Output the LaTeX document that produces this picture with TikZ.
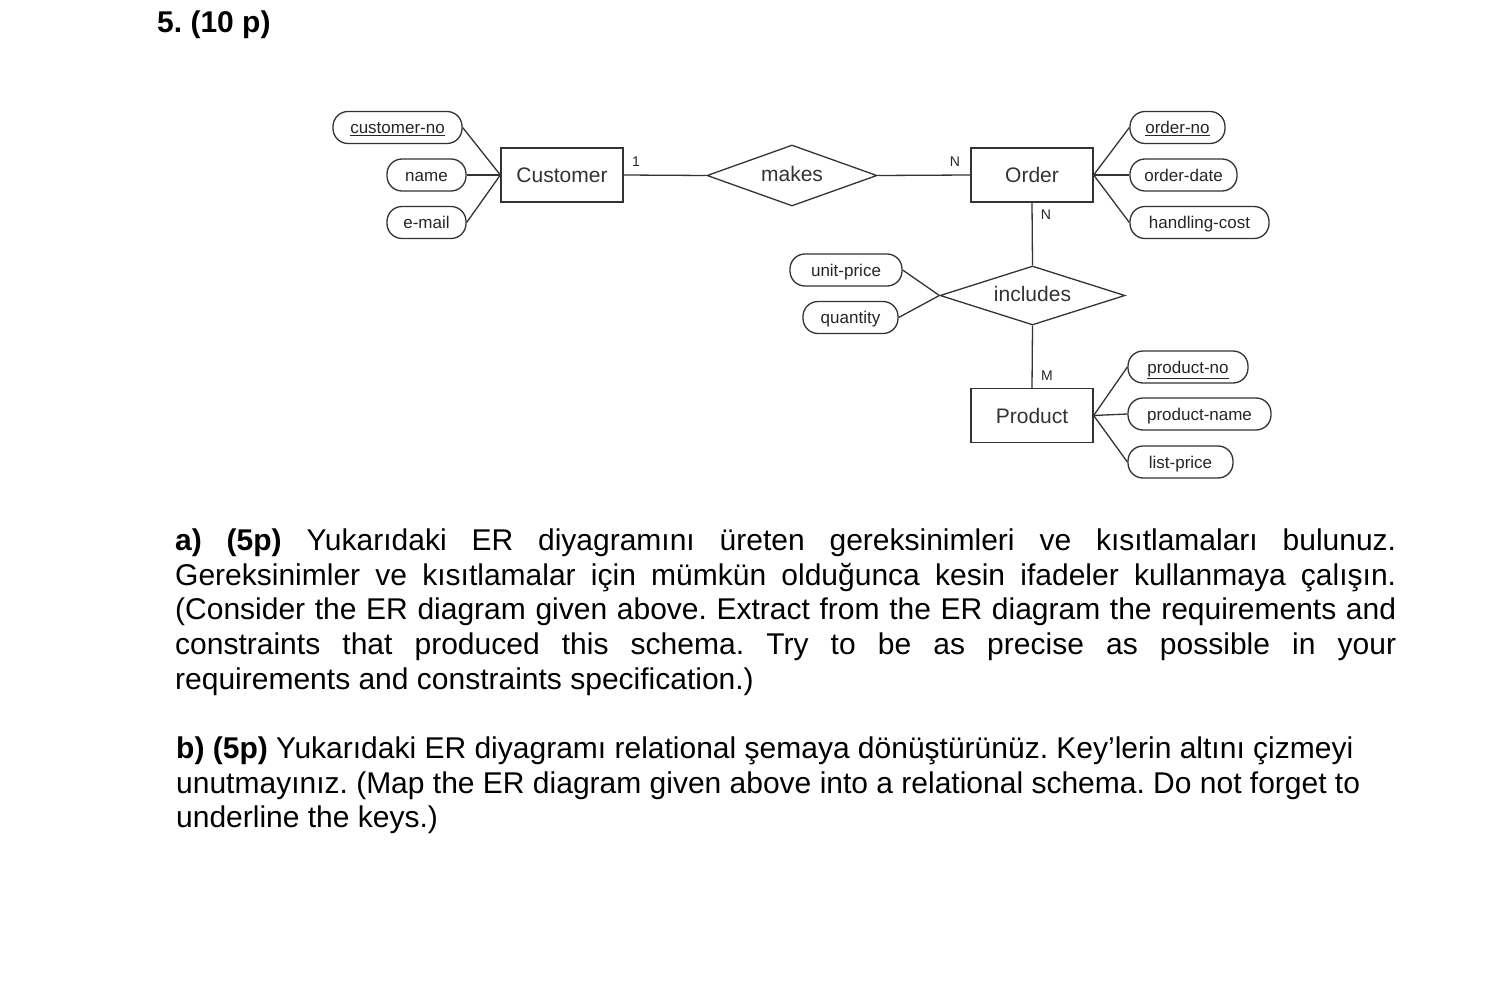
\documentclass[tikz,border=0pt]{standalone}
\usepackage{fontspec}
\setmainfont{Liberation Sans}
\frenchspacing
\usetikzlibrary{shapes.geometric}
\tikzset{
  ln/.style={draw=black!80, line width=1.3pt},
  entity/.style={ln, rectangle, inner sep=0pt, minimum width=122pt, minimum height=54pt,
    font=\fontsize{21}{24}\selectfont, text=black!80},
  rel/.style={ln, diamond, inner sep=0pt, font=\fontsize{21}{24}\selectfont, text=black!80},
  attr/.style={ln, rectangle, rounded corners=15pt, inner sep=0pt, minimum height=32pt,
    text height=14pt, text depth=1.5pt, font=\fontsize{17}{20}\selectfont, text=black!85},
  card/.style={inner sep=0pt, font=\fontsize{14}{16}\selectfont, text=black!85},
  para/.style={inner sep=0pt, anchor=base west, font=\fontsize{30}{34}\selectfont},
  conn/.style={draw=black!80, line width=1.3pt}
}
\newcommand{\jline}[1]{\makebox[1221pt][s]{#1}}
\newcommand{\flattxt}[1]{\smash{\makebox[0pt]{\raisebox{-0.55ex}{#1}}}}
\begin{document}
\begin{tikzpicture}[x=1pt,y=-1pt]
\useasboundingbox[fill=white] (0,0) rectangle (1488,1000);
% title
\node[para, font=\fontsize{30}{34}\selectfont\bfseries] (title) at (157,33) {5. (10 p)};
% entities
\node[entity] (cust) at (562,175) {Customer};
\node[entity] (order) at (1032,175) {Order};
\node[entity] (prod) at (1032,415.5) {Product};
% relationships
\node[rel, minimum width=170pt, minimum height=61pt] (makes) at (792,175.5) {\flattxt{makes}};
\node[rel, minimum width=185pt, minimum height=59pt] (incl) at (1032.5,295.5) {\flattxt{includes}};
% attributes
\node[attr, minimum width=129pt] (cno) at (397.5,127.5) {\underline{customer-no}};
\node[attr, minimum width=79pt] (cname) at (426.5,175) {name};
\node[attr, minimum width=79pt] (cmail) at (426.5,222.5) {e-mail};
\node[attr, minimum width=95pt] (ono) at (1177.5,127.5) {\underline{order-no}};
\node[attr, minimum width=107pt] (odate) at (1183.5,175) {order-date};
\node[attr, minimum width=139pt] (ocost) at (1199.5,222.5) {handling-cost};
\node[attr, minimum width=112pt] (uprice) at (846,270) {unit-price};
\node[attr, minimum width=95pt] (qty) at (850.5,317.5) {quantity};
\node[attr, minimum width=120pt] (pno) at (1188,367) {\underline{product-no}};
\node[attr, minimum width=143pt] (pname) at (1199.5,414) {product-name};
\node[attr, minimum width=105pt] (lprice) at (1180.5,462) {list-price};
% connectors
\draw[conn] (cust.east) -- (makes.west);
\draw[conn] (makes.east) -- (order.west);
\draw[conn] (order.south) -- (incl.north);
\draw[conn] (incl.south) -- (prod.north);
\draw[conn] (cno.east) -- (cust.west);
\draw[conn] (cname.east) -- (cust.west);
\draw[conn] (cmail.east) -- (cust.west);
\draw[conn] (order.east) -- (ono.west);
\draw[conn] (order.east) -- (odate.west);
\draw[conn] (order.east) -- (ocost.west);
\draw[conn] (uprice.east) -- (incl.west);
\draw[conn] (qty.east) -- (incl.west);
\draw[conn] (prod.east) -- (pno.west);
\draw[conn] (prod.east) -- (pname.west);
\draw[conn] (prod.east) -- (lprice.west);
% cardinalities
\node[card] (c1) at (636,162) {1};
\node[card] (c2) at (955,162) {N};
\node[card] (c3) at (1046,215) {N};
\node[card] (c4) at (1047,376) {M};
% paragraph a
\node[para] (a1) at (175,550) {\jline{\textbf{a) (5p)} Yukarıdaki ER diyagramını üreten gereksinimleri ve kısıtlamaları bulunuz.}};
\node[para] (a2) at (175,585) {\jline{Gereksinimler ve kısıtlamalar için mümkün olduğunca kesin ifadeler kullanmaya çalışın.}};
\node[para] (a3) at (175,619) {\jline{(Consider the ER diagram given above. Extract from the ER diagram the requirements and}};
\node[para] (a4) at (175,654) {\jline{constraints that produced this schema. Try to be as precise as possible in your}};
\node[para] (a5) at (175,689) {requirements and constraints specification.)};
% paragraph b
\node[para] (b1) at (176,758) {\textbf{b) (5p)} Yukarıdaki ER diyagramı relational şemaya dönüştürünüz. Key’lerin altını çizmeyi};
\node[para] (b2) at (176,793) {unutmayınız. (Map the ER diagram given above into a relational schema. Do not forget to};
\node[para] (b3) at (176,827) {underline the keys.)};
\end{tikzpicture}
\end{document}
